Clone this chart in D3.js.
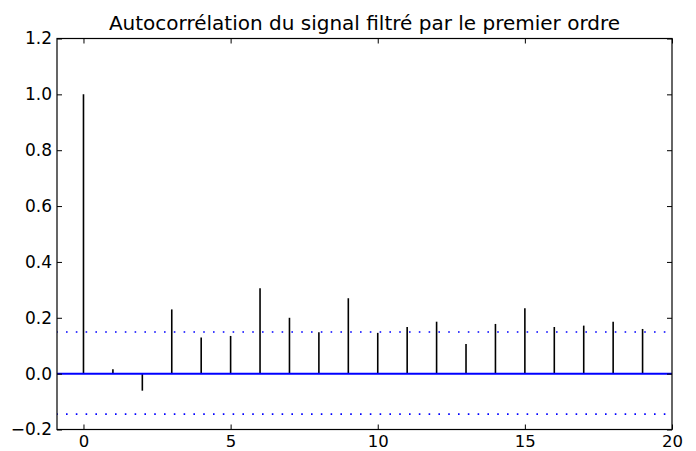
<!DOCTYPE html>
<html>
<head>
<meta charset="utf-8">
<script src="https://cdn.jsdelivr.net/npm/d3@7"></script>
<style>
  body { margin: 0; background: #fff; }
  text { font-family: "DejaVu Sans", sans-serif; fill: #000; }
</style>
</head>
<body>
<svg id="chart" width="696" height="451"></svg>
<script>
'use strict';

// autocorrelation values, lag 0..19
var lags = d3.range(0, 20);
var acf = [1.0, 0.016, -0.061, 0.23, 0.129, 0.135, 0.306, 0.2, 0.148, 0.27,
           0.146, 0.167, 0.186, 0.106, 0.178, 0.234, 0.167, 0.172, 0.186, 0.16];
var confBounds = [0.149, -0.145];
var xTicks = [0, 5, 10, 15, 20];
var yTicks = [-0.2, 0, 0.2, 0.4, 0.6, 0.8, 1.0, 1.2];
var title = 'Autocorrélation du signal filtré par le premier ordre';

var margin = {top: 38.5, right: 24, bottom: 21.5, left: 57};
var width = 696 - margin.left - margin.right;
var height = 451 - margin.top - margin.bottom;

var svg = d3.select('#chart');
var g = svg.append('g').attr('transform', 'translate(' + margin.left + ',' + margin.top + ')');

var x = d3.scaleLinear().domain([-0.9, 20]).range([0, width]);
var y = d3.scaleLinear().domain([-0.2, 1.2]).range([height, 0]);

// stems
g.selectAll('line.stem')
  .data(lags)
  .enter().append('line')
  .attr('class', 'stem')
  .attr('x1', function(d) { return x(d); })
  .attr('x2', function(d) { return x(d); })
  .attr('y1', y(0))
  .attr('y2', function(d) { return y(acf[d]); })
  .attr('stroke', '#000')
  .attr('stroke-width', 1.6);

// zero line
g.append('line')
  .attr('x1', 0).attr('x2', width)
  .attr('y1', y(0)).attr('y2', y(0))
  .attr('stroke', '#0000ff')
  .attr('stroke-width', 2);

// confidence bounds
g.selectAll('line.conf')
  .data(confBounds)
  .enter().append('line')
  .attr('class', 'conf')
  .attr('x1', 0).attr('x2', width)
  .attr('y1', function(d) { return y(d); })
  .attr('y2', function(d) { return y(d); })
  .attr('stroke', '#0000ff')
  .attr('stroke-width', 1.6)
  .attr('stroke-dasharray', '1.6,8.2')
  .attr('stroke-dashoffset', -9);

function fmt(d) {
  return d3.format('.1f')(d).replace('-', '\u2212');
}

// axes, ticks pointing inward
var axBottom = d3.axisBottom(x).tickValues(xTicks).tickSizeInner(-5).tickSizeOuter(0).tickPadding(6);
var axTop = d3.axisTop(x).tickValues(xTicks).tickSizeInner(-5).tickSizeOuter(0).tickFormat('');
var axLeft = d3.axisLeft(y).tickValues(yTicks).tickSizeInner(-5).tickSizeOuter(0).tickPadding(5).tickFormat(fmt);
var axRight = d3.axisRight(y).tickValues(yTicks).tickSizeInner(-5).tickSizeOuter(0).tickFormat('');

[ [axBottom, 'translate(0,' + height + ')', '16.5px'],
  [axTop, 'translate(0,0)', '17px'],
  [axLeft, 'translate(0,0)', '17px'],
  [axRight, 'translate(' + width + ',0)', '17px'] ].forEach(function(a) {
  var ax = g.append('g').attr('transform', a[1]).call(a[0]);
  ax.select('.domain').remove();
  ax.selectAll('line').attr('stroke', '#000').attr('stroke-width', 1);
  ax.selectAll('text').style('font-size', a[2]).style('font-family', '"DejaVu Sans", sans-serif');
});

// frame
g.append('rect')
  .attr('x', 0).attr('y', 0)
  .attr('width', width).attr('height', height)
  .attr('fill', 'none')
  .attr('stroke', '#000')
  .attr('stroke-width', 1.2);

// title
svg.append('text')
  .attr('x', margin.left + width / 2)
  .attr('y', 30)
  .attr('text-anchor', 'middle')
  .style('font-size', '20px')
  .text(title);
</script>
</body>
</html>
